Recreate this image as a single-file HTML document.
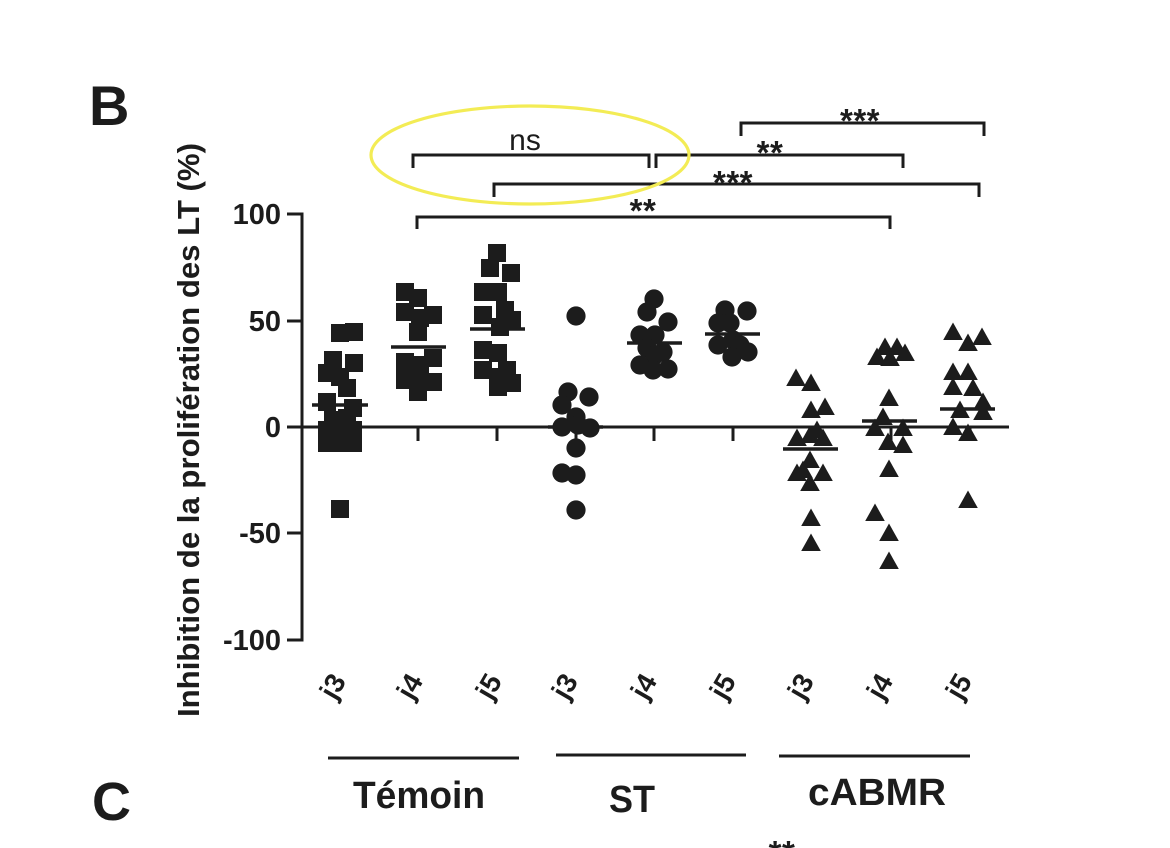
<!DOCTYPE html>
<html>
<head>
<meta charset="utf-8">
<style>
  html, body { margin: 0; padding: 0; background: #ffffff; }
  body { width: 1170px; height: 848px; overflow: hidden; }
  svg { display: block; }
  text { font-family: "Liberation Sans", Arial, sans-serif; fill: #1c1c1c; }
</style>
</head>
<body>
<svg width="1170" height="848" viewBox="0 0 1170 848" xmlns="http://www.w3.org/2000/svg">
  <defs>
    <rect id="sq" x="-9" y="-9" width="18" height="18" fill="#1c1c1c"/>
    <circle id="ci" r="9.6" fill="#1c1c1c"/>
    <polygon id="tr" points="0,-9.5 9.8,8 -9.8,8" fill="#1c1c1c"/>
  </defs>

  <!-- Panel letters -->
  <text x="89" y="125" font-size="56" font-weight="bold">B</text>
  <text x="92" y="820" font-size="54" font-weight="bold">C</text>

  <!-- Y axis title -->
  <text transform="translate(199,430) rotate(-90)" text-anchor="middle" font-size="31" font-weight="bold" textLength="574" lengthAdjust="spacingAndGlyphs">Inhibition de la prolifération des LT (%)</text>

  <!-- Y axis -->
  <g stroke="#1c1c1c" stroke-width="3" fill="none">
    <line x1="302" y1="212.5" x2="302" y2="641.5"/>
    <line x1="287" y1="214" x2="302" y2="214"/>
    <line x1="287" y1="321" x2="302" y2="321"/>
    <line x1="287" y1="427" x2="302" y2="427"/>
    <line x1="287" y1="533" x2="302" y2="533"/>
    <line x1="287" y1="640" x2="302" y2="640"/>
    <!-- zero line -->
    <line x1="302" y1="427" x2="1009" y2="427"/>
    <!-- x ticks -->
    <line x1="340" y1="427" x2="340" y2="441"/>
    <line x1="418" y1="427" x2="418" y2="441"/>
    <line x1="497" y1="427" x2="497" y2="441"/>
    <line x1="576" y1="427" x2="576" y2="441"/>
    <line x1="654" y1="427" x2="654" y2="441"/>
    <line x1="733" y1="427" x2="733" y2="441"/>
    <line x1="812" y1="427" x2="812" y2="441"/>
    <line x1="891" y1="427" x2="891" y2="441"/>
    <line x1="970" y1="427" x2="970" y2="441"/>
  </g>

  <!-- Y tick labels -->
  <g font-size="29" font-weight="bold" text-anchor="end">
    <text x="281" y="224">100</text>
    <text x="281" y="331">50</text>
    <text x="281" y="437">0</text>
    <text x="281" y="543">-50</text>
    <text x="281" y="650">-100</text>
  </g>

  <!-- X tick labels (rotated) -->
  <g font-size="28" font-weight="bold" text-anchor="middle">
    <text transform="translate(341,691) rotate(-60)">j3</text>
    <text transform="translate(418,691) rotate(-60)">j4</text>
    <text transform="translate(497,691) rotate(-60)">j5</text>
    <text transform="translate(573,691) rotate(-60)">j3</text>
    <text transform="translate(652,691) rotate(-60)">j4</text>
    <text transform="translate(731,691) rotate(-60)">j5</text>
    <text transform="translate(809,691) rotate(-60)">j3</text>
    <text transform="translate(888,691) rotate(-60)">j4</text>
    <text transform="translate(967,691) rotate(-60)">j5</text>
  </g>

  <!-- Group lines and labels -->
  <g stroke="#1c1c1c" stroke-width="3">
    <line x1="328" y1="758" x2="519" y2="758"/>
    <line x1="556" y1="755" x2="746" y2="755"/>
    <line x1="779" y1="756" x2="970" y2="756"/>
  </g>
  <g font-size="38" font-weight="bold" text-anchor="middle">
    <text x="419" y="808" textLength="132" lengthAdjust="spacingAndGlyphs">Témoin</text>
    <text x="632" y="812" textLength="46" lengthAdjust="spacingAndGlyphs">ST</text>
    <text x="877" y="805" textLength="138" lengthAdjust="spacingAndGlyphs">cABMR</text>
  </g>

  <!-- Témoin j3 squares -->
  <g>
    <use href="#sq" x="340" y="333"/><use href="#sq" x="354" y="332"/>
    <use href="#sq" x="333" y="360"/><use href="#sq" x="354" y="363"/>
    <use href="#sq" x="327" y="373"/><use href="#sq" x="340" y="377"/>
    <use href="#sq" x="347" y="388"/><use href="#sq" x="327" y="402"/>
    <use href="#sq" x="353" y="408"/>
    <use href="#sq" x="333" y="420"/><use href="#sq" x="347" y="418"/>
    <use href="#sq" x="327" y="430"/><use href="#sq" x="340" y="430"/><use href="#sq" x="353" y="430"/>
    <use href="#sq" x="327" y="443"/><use href="#sq" x="340" y="443"/><use href="#sq" x="353" y="443"/>
    <use href="#sq" x="340" y="509"/>
  </g>
  <!-- Témoin j4 -->
  <g>
    <use href="#sq" x="405" y="292"/><use href="#sq" x="418" y="298"/>
    <use href="#sq" x="433" y="315"/><use href="#sq" x="405" y="312"/>
    <use href="#sq" x="420" y="318"/><use href="#sq" x="418" y="332"/>
    <use href="#sq" x="405" y="362"/><use href="#sq" x="433" y="358"/>
    <use href="#sq" x="420" y="365"/>
    <use href="#sq" x="405" y="380"/><use href="#sq" x="418" y="375"/>
    <use href="#sq" x="433" y="382"/><use href="#sq" x="418" y="392"/>
  </g>
  <!-- Témoin j5 -->
  <g>
    <use href="#sq" x="497" y="253"/><use href="#sq" x="490" y="268"/>
    <use href="#sq" x="511" y="273"/><use href="#sq" x="483" y="292"/>
    <use href="#sq" x="498" y="292"/><use href="#sq" x="483" y="315"/>
    <use href="#sq" x="505" y="310"/><use href="#sq" x="512" y="320"/>
    <use href="#sq" x="500" y="327"/>
    <use href="#sq" x="483" y="350"/><use href="#sq" x="498" y="353"/>
    <use href="#sq" x="483" y="370"/><use href="#sq" x="507" y="370"/>
    <use href="#sq" x="498" y="377"/><use href="#sq" x="512" y="383"/>
    <use href="#sq" x="498" y="387"/>
  </g>

  <!-- ST j3 circles -->
  <g>
    <use href="#ci" x="576" y="316"/>
    <use href="#ci" x="568" y="392"/><use href="#ci" x="589" y="397"/>
    <use href="#ci" x="562" y="405"/><use href="#ci" x="576" y="417"/>
    <use href="#ci" x="578" y="425"/>
    <use href="#ci" x="562" y="427"/><use href="#ci" x="590" y="428"/>
    <use href="#ci" x="576" y="448"/>
    <use href="#ci" x="562" y="473"/><use href="#ci" x="576" y="475"/>
    <use href="#ci" x="576" y="510"/>
  </g>
  <!-- ST j4 -->
  <g>
    <use href="#ci" x="654" y="299"/><use href="#ci" x="647" y="312"/>
    <use href="#ci" x="668" y="322"/><use href="#ci" x="640" y="335"/>
    <use href="#ci" x="655" y="335"/><use href="#ci" x="647" y="348"/>
    <use href="#ci" x="663" y="352"/><use href="#ci" x="655" y="355"/>
    <use href="#ci" x="640" y="365"/><use href="#ci" x="653" y="370"/>
    <use href="#ci" x="668" y="369"/>
  </g>
  <!-- ST j5 -->
  <g>
    <use href="#ci" x="725" y="310"/><use href="#ci" x="747" y="311"/>
    <use href="#ci" x="718" y="323"/><use href="#ci" x="730" y="323"/>
    <use href="#ci" x="733" y="340"/><use href="#ci" x="718" y="345"/>
    <use href="#ci" x="740" y="345"/><use href="#ci" x="748" y="352"/>
    <use href="#ci" x="732" y="357"/>
  </g>

  <!-- cABMR j3 triangles -->
  <g>
    <use href="#tr" x="796" y="378"/><use href="#tr" x="811" y="383"/>
    <use href="#tr" x="811" y="410"/><use href="#tr" x="825" y="407"/>
    <use href="#tr" x="817" y="430"/>
    <use href="#tr" x="797" y="438"/><use href="#tr" x="810" y="435"/>
    <use href="#tr" x="823" y="438"/>
    <use href="#tr" x="810" y="460"/><use href="#tr" x="803" y="470"/>
    <use href="#tr" x="797" y="473"/><use href="#tr" x="823" y="473"/>
    <use href="#tr" x="810" y="483"/>
    <use href="#tr" x="811" y="518"/><use href="#tr" x="811" y="543"/>
  </g>
  <!-- cABMR j4 -->
  <g>
    <use href="#tr" x="885" y="347"/><use href="#tr" x="897" y="347"/>
    <use href="#tr" x="905" y="353"/><use href="#tr" x="877" y="357"/>
    <use href="#tr" x="890" y="358"/>
    <use href="#tr" x="889" y="398"/><use href="#tr" x="883" y="417"/>
    <use href="#tr" x="875" y="428"/><use href="#tr" x="903" y="428"/>
    <use href="#tr" x="888" y="442"/><use href="#tr" x="903" y="445"/>
    <use href="#tr" x="889" y="469"/>
    <use href="#tr" x="875" y="513"/><use href="#tr" x="889" y="533"/>
    <use href="#tr" x="889" y="561"/>
  </g>
  <!-- cABMR j5 -->
  <g>
    <use href="#tr" x="953" y="332"/><use href="#tr" x="982" y="337"/>
    <use href="#tr" x="968" y="343"/>
    <use href="#tr" x="953" y="372"/><use href="#tr" x="968" y="372"/>
    <use href="#tr" x="953" y="387"/><use href="#tr" x="973" y="388"/>
    <use href="#tr" x="983" y="402"/><use href="#tr" x="960" y="410"/>
    <use href="#tr" x="983" y="412"/>
    <use href="#tr" x="953" y="427"/><use href="#tr" x="968" y="433"/>
    <use href="#tr" x="968" y="500"/>
  </g>

  <!-- Mean lines -->
  <g stroke="#1c1c1c" stroke-width="3.5">
    <line x1="312" y1="405" x2="368" y2="405"/>
    <line x1="391" y1="347" x2="446" y2="347"/>
    <line x1="470" y1="329" x2="525" y2="329"/>
    <line x1="548" y1="427" x2="603" y2="427"/>
    <line x1="627" y1="343" x2="682" y2="343"/>
    <line x1="705" y1="334" x2="760" y2="334"/>
    <line x1="783" y1="449" x2="838" y2="449"/>
    <line x1="862" y1="421" x2="917" y2="421"/>
    <line x1="940" y1="409" x2="995" y2="409"/>
  </g>

  <!-- Significance brackets -->
  <g stroke="#1c1c1c" stroke-width="3" fill="none" stroke-linecap="butt">
    <polyline points="413,168 413,155 649,155 649,168"/>
    <polyline points="656,168 656,155 903,155 903,168"/>
    <polyline points="741,136 741,123 984,123 984,136"/>
    <polyline points="494,197 494,184 979,184 979,197"/>
    <polyline points="417,229 417,217 890,217 890,229"/>
  </g>
  <text x="525" y="150" font-size="30" text-anchor="middle">ns</text>
  <g text-anchor="middle" font-size="33" font-weight="bold" letter-spacing="0.5">
    <text x="770" y="164">**</text>
    <text x="860" y="132">***</text>
    <text x="733" y="194">***</text>
    <text x="643" y="222">**</text>
    <text x="782" y="864">**</text>
  </g>

  <!-- Yellow highlight ellipse -->
  <ellipse cx="530" cy="155" rx="159" ry="49" fill="none" stroke="#f3ec55" stroke-width="3.2"/>
</svg>
</body>
</html>
